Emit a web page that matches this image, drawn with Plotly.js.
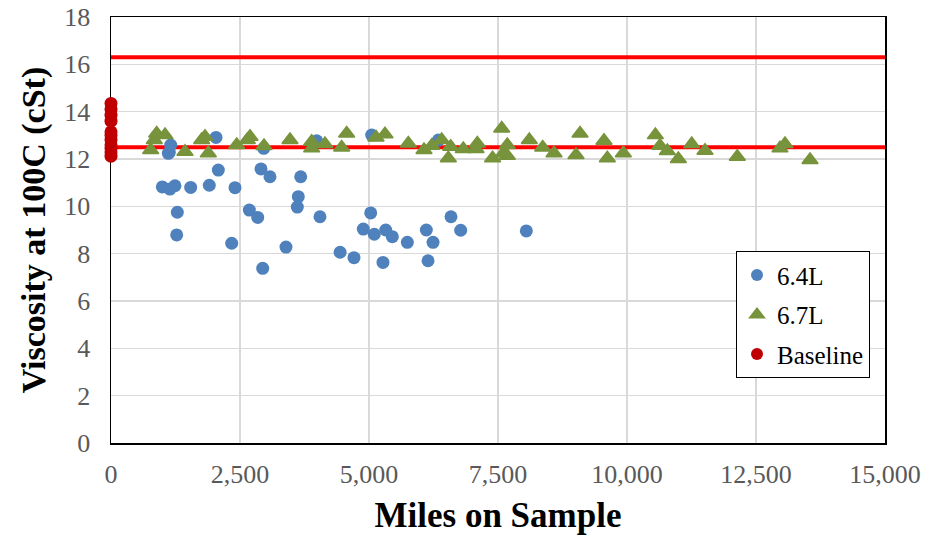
<!DOCTYPE html>
<html>
<head>
<meta charset="utf-8">
<script src="https://cdn.plot.ly/plotly-3.0.1.min.js"></script>
<style>
  html, body { margin: 0; padding: 0; background: #fff; }
  #chart { width: 925px; height: 535px; }
</style>
</head>
<body>
<div id="chart"></div>
<script>
// 6.4L engine samples: miles on oil vs. kinematic viscosity at 100C
const miles64 = [995, 1111, 1130, 1143, 1157, 1240, 1273, 1285, 1544, 1905, 2035, 2080, 2339, 2403,
  2681, 2843, 2907, 2940, 2960, 3081, 3391, 3611, 3630, 3676, 3986, 4050, 4440, 4709, 4890,
  5052, 5033, 5103, 5271, 5324, 5452, 5743, 6111, 6144, 6241, 6344, 6589, 6777, 8049];
const visc64 = [10.82, 12.24, 12.28, 10.73, 12.59, 10.87, 8.79, 9.75, 10.80, 10.89, 12.91, 11.53, 8.44, 10.79,
  9.84, 9.53, 11.58, 7.38, 12.45, 11.25, 8.28, 9.97, 10.41, 11.25, 12.77, 9.56, 8.06, 7.83, 9.04,
  13.01, 9.72, 8.82, 7.63, 9.00, 8.72, 8.48, 9.00, 7.70, 8.48, 12.80, 9.56, 8.99, 8.96];

// 6.7L engine samples
const miles67 = [769, 839, 885, 1047, 1434, 1757, 1822, 1886, 2436, 2642, 2694, 2965,
  3469, 3889, 3889, 4147, 4470, 4567, 5136, 5310, 5762, 6066, 6215, 6409, 6583, 6537,
  6828, 7099, 7074, 7572, 7395, 7680, 7603, 7680, 8107, 8366, 8586, 9090, 9012, 9554,
  9619, 9929, 10550, 10640, 10782, 10995, 11254, 11512, 12138, 12965, 13062, 13547];
const visc67 = [12.38, 12.80, 13.08, 13.01, 12.31, 12.80, 12.94, 12.24, 12.59, 12.80, 12.94, 12.55,
  12.80, 12.73, 12.45, 12.63, 12.49, 13.08, 12.91, 13.05, 12.66, 12.38, 12.56, 12.80, 12.52, 12.03,
  12.42, 12.66, 12.42, 13.29, 12.03, 12.59, 12.24, 12.14, 12.80, 12.49, 12.24, 13.08, 12.17, 12.77,
  12.03, 12.24, 13.01, 12.56, 12.34, 12.00, 12.63, 12.35, 12.10, 12.45, 12.63, 11.96];

// Fresh-oil baseline samples (0 miles)
const milesBase = [0, 0, 0, 0, 0, 0, 0, 0, 0, 0, 0];
const viscBase = [14.35, 14.10, 13.85, 13.60, 13.15, 13.00, 12.80, 12.60, 12.45, 12.30, 12.12];

// Viscosity limit lines
const limitLevels = [12.5, 16.3];
const limitSpan = [0, 15000];

const serif = 'Liberation Serif';

const traces = [];
limitLevels.forEach(v => {
  traces.push({
    x: limitSpan, y: [v, v], type: 'scatter', mode: 'lines',
    line: { color: '#FF0000', width: 4 },
    showlegend: false, hoverinfo: 'skip', cliponaxis: false
  });
});
traces.push({
  x: miles64, y: visc64, type: 'scatter', mode: 'markers', name: '6.4L',
  legendgroup: 'a',
  marker: { symbol: 'circle', size: 13, color: '#4F81BD' }
});
traces.push({
  x: miles67, y: visc67, type: 'scatter', mode: 'markers', name: '6.7L',
  legendgroup: 'b',
  marker: { symbol: 'triangle-up', size: 14, color: '#77933C',
    line: { color: '#77933C', width: 1.5 } }
});
traces.push({
  x: milesBase, y: viscBase, type: 'scatter', mode: 'markers', name: 'Baseline',
  legendgroup: 'c', cliponaxis: false,
  marker: { symbol: 'circle', size: 13, color: '#C00000' }
});

const layout = {
  width: 925, height: 535,
  margin: { l: 111, r: 40, t: 17, b: 92 },
  paper_bgcolor: '#ffffff', plot_bgcolor: '#ffffff',
  font: { family: serif, size: 26, color: '#595959' },
  showlegend: true,
  legend: {
    x: 0.8075, y: 0.45, xanchor: 'left', yanchor: 'top',
    bgcolor: '#ffffff', bordercolor: '#000000', borderwidth: 1,
    font: { family: serif, size: 25, color: '#000000' },
    tracegroupgap: 4, itemsizing: 'constant', itemwidth: 30
  },
  xaxis: {
    range: [0, 15000], tickvals: [0, 2500, 5000, 7500, 10000, 12500, 15000],
    tickformat: ',d', ticks: '', ticklabelstandoff: 7,
    showgrid: true, gridcolor: '#D9D9D9', gridwidth: 1.5,
    showline: true, linecolor: '#000000', linewidth: 1.5, mirror: true, zeroline: false,
    layer: 'below traces',
    title: { text: 'Miles on Sample', standoff: 22,
      font: { family: serif, size: 35, color: '#000000', weight: 'bold' } }
  },
  yaxis: {
    range: [0, 18], dtick: 2, ticks: '', ticklabelstandoff: 14,
    showgrid: true, gridcolor: '#D9D9D9', gridwidth: 1.5,
    showline: true, linecolor: '#000000', linewidth: 1.5, mirror: true, zeroline: false,
    layer: 'below traces',
    title: { text: 'Viscosity at 100C (cSt)', standoff: 8,
      font: { family: serif, size: 34, color: '#000000', weight: 'bold' } }
  }
};

Plotly.newPlot('chart', traces, layout, { displayModeBar: false, staticPlot: true });
</script>
</body>
</html>
